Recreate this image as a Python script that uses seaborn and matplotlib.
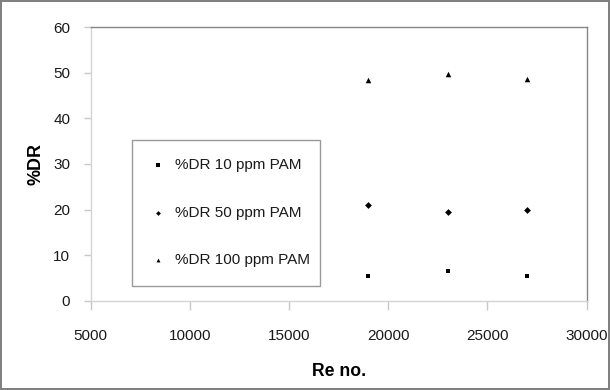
import matplotlib
matplotlib.use("Agg")
import matplotlib.pyplot as plt
import seaborn as sns
import pandas as pd

re_no = [19000, 23000, 27000]
dr_10 = [5.4, 6.6, 5.4]
dr_50 = [20.9, 19.5, 19.9]
dr_100 = [48.4, 49.7, 48.6]
series_names = ["%DR 10 ppm PAM", "%DR 50 ppm PAM", "%DR 100 ppm PAM"]
x_ticks = [5000, 10000, 15000, 20000, 25000, 30000]
y_ticks = [0, 10, 20, 30, 40, 50, 60]

df = pd.DataFrame({
    "Re no.": re_no * 3,
    "%DR": dr_10 + dr_50 + dr_100,
    "series": [series_names[0]] * 3 + [series_names[1]] * 3 + [series_names[2]] * 3,
})

sns.set_theme(style="white")
plt.rcParams["font.family"] = ["Liberation Sans", "DejaVu Sans"]

fig = plt.figure(figsize=(6.1, 3.9), dpi=100)
fig.patch.set_edgecolor("#808080")
fig.patch.set_linewidth(1.5)
ax = fig.add_axes([0.1487, 0.229, 0.8131, 0.701])

markers = {series_names[0]: "s", series_names[1]: "D", series_names[2]: "^"}
palette = {n: "black" for n in series_names}
sizes_map = {series_names[0]: 12, series_names[1]: 12, series_names[2]: 16}
for name, yv in zip(series_names, [dr_10, dr_50, dr_100]):
    sub = df[df["series"] == name]
    sns.scatterplot(data=sub, x="Re no.", y="%DR", marker=markers[name],
                    color="black", s=sizes_map[name], linewidth=0,
                    ax=ax, label=name)

ax.set_xlim(5000, 30000)
ax.set_ylim(0, 60)
ax.set_xticks(x_ticks)
ax.set_yticks(y_ticks)
ax.set_xticklabels([str(v) for v in x_ticks])
ax.set_yticklabels([str(v) for v in y_ticks])

for s in ["top", "right"]:
    ax.spines[s].set_color("#858585")
    ax.spines[s].set_linewidth(1.0)
for s in ["left", "bottom"]:
    ax.spines[s].set_color("#d4d4d4")
    ax.spines[s].set_linewidth(1.0)

ax.tick_params(axis="x", direction="out", length=6.5, width=1.0, color="#c8c8c8",
               pad=14, labelsize=11, labelcolor="#1a1a1a", bottom=True)
ax.tick_params(axis="y", direction="out", length=4.8, width=1.0, color="#c8c8c8",
               pad=10, labelsize=11, labelcolor="#1a1a1a", left=True)

ax.set_xlabel("Re no.", fontsize=12.7, fontweight="bold", labelpad=14, color="black")
ax.set_ylabel("%DR", fontsize=12.9, fontweight="bold", labelpad=6, color="black")

handles, labels = ax.get_legend_handles_labels()
leg = ax.legend(handles, labels, loc="upper left",
                bbox_to_anchor=(0.0827, 0.588, 0.379, 0.0), mode="expand",
                frameon=True, fancybox=False, edgecolor="#808080",
                fontsize=11, labelspacing=2.2, handletextpad=0.6,
                handlelength=1.0, borderpad=1.2, markerscale=0.7,
                borderaxespad=0)
leg.get_frame().set_linewidth(1.0)
for t in leg.get_texts():
    t.set_color("#1a1a1a")

fig.savefig("out.png", dpi=100)
